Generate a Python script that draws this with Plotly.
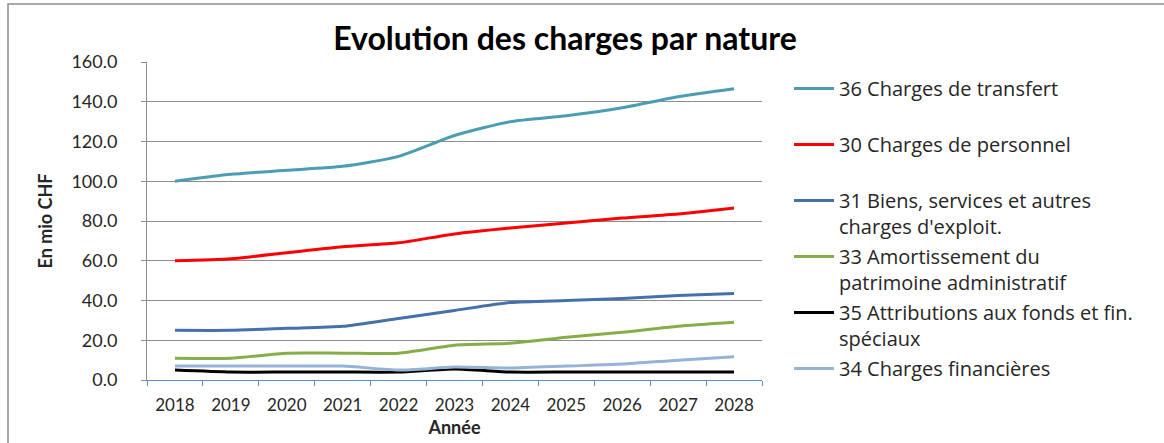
import plotly.graph_objects as go

years = ["2018", "2019", "2020", "2021", "2022", "2023", "2024", "2025", "2026", "2027", "2028"]

transfert = [100.0, 103.5, 105.5, 107.5, 112.5, 123.0, 130.0, 133.0, 137.0, 142.5, 146.5]
personnel = [60.0, 61.0, 64.0, 67.0, 69.0, 73.5, 76.5, 79.0, 81.5, 83.5, 86.5]
biens = [25.0, 25.0, 26.0, 27.0, 31.0, 35.0, 39.0, 40.0, 41.0, 42.5, 43.5]
amortissement = [11.0, 11.0, 13.5, 13.5, 13.5, 17.5, 18.5, 21.5, 24.0, 27.0, 29.0]
attributions = [5.0, 4.0, 4.0, 4.0, 4.0, 5.5, 4.0, 4.0, 4.0, 4.0, 4.0]
financieres = [7.0, 7.0, 7.0, 7.0, 5.0, 6.5, 6.0, 7.0, 8.0, 10.0, 11.7]

series = [
    ("36 Charges de transfert<br> ", transfert, "#4A9DB5"),
    ("30 Charges de personnel<br> ", personnel, "#FF0000"),
    ("31 Biens, services et autres<br>charges d'exploit.", biens, "#4471AB"),
    ("33 Amortissement du<br>patrimoine administratif", amortissement, "#86AE48"),
    ("35 Attributions aux fonds et fin.<br>spéciaux", attributions, "#000000"),
    ("34 Charges financières", financieres, "#95B3D7"),
]

fig = go.Figure()
for i, (name, vals, col) in enumerate(series):
    fig.add_trace(go.Scatter(
        x=years, y=vals, name=name, mode="lines",
        line=dict(color=col, width=3, shape="spline", smoothing=0.6),
        legendgroup=f"g{i}",
    ))

fig.update_layout(
    width=1164, height=443,
    margin=dict(l=147, r=402, t=62, b=63, autoexpand=False),
    paper_bgcolor="white", plot_bgcolor="white",
    font=dict(family="Lato, sans-serif", color="#262626"),
    title=dict(text="<b>Evolution des charges par nature</b>", x=(565 / 1164), xanchor="center",
               y=1 - 39 / 443, yanchor="middle", font=dict(size=32, color="#000000")),
    showlegend=True,
    legend=dict(x=(789 - 147) / 615, y=(380 - 69) / 318, xanchor="left", yanchor="top",
                valign="top", font=dict(family="Open Sans, sans-serif", size=20, color="#262626"),
                tracegroupgap=1, itemwidth=40, bgcolor="rgba(0,0,0,0)", maxheight=420),
    xaxis=dict(
        type="category", showgrid=False, showline=True, linecolor="#5B8FCB", linewidth=1,
        ticks="outside", tickson="boundaries", ticklen=5, tickcolor="#5B8FCB",
        tickfont=dict(size=17, color="#262626"), ticklabelstandoff=10, automargin=False,
        title=dict(text="<b>Année</b>", font=dict(size=18, color="#262626"), standoff=6),
        range=[-0.5, 10.5],
    ),
    yaxis=dict(
        range=[0, 160], dtick=20, tickformat=".1f", showgrid=True, gridcolor="#8C8C8C", gridwidth=1,
        showline=True, linecolor="#8C8C8C", ticks="outside", ticklen=5, tickcolor="#8C8C8C",
        zeroline=False, tickfont=dict(size=18, color="#262626"), ticklabelstandoff=20, automargin=False,
        title=dict(text="<b>En mio CHF</b>", font=dict(size=18, color="#262626"), standoff=14),
    ),
    shapes=[dict(type="rect", xref="paper", yref="paper",
                 x0=(8 - 147) / 615, x1=(1180 - 147) / 615,
                 y0=(380 - 460) / 318, y1=(380 - 4) / 318,
                 line=dict(color="#8C8C8C", width=1.5), fillcolor="rgba(0,0,0,0)", layer="below")],
)

fig.write_html("out.html", config={"displayModeBar": False},
               post_script="document.body.style.margin='0';")
